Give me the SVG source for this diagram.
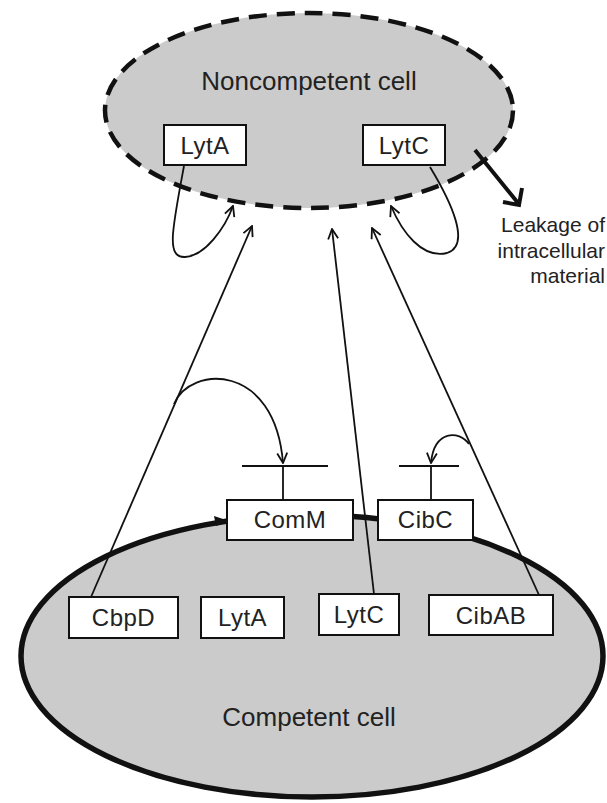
<svg xmlns="http://www.w3.org/2000/svg" width="607" height="803" viewBox="0 0 607 803">
<style>
.cell{fill:#cbcbcb}
.box{fill:#fff;stroke:#111;stroke-width:2}
.lbl{font-family:"Liberation Sans",Arial,sans-serif;font-size:24px;letter-spacing:0.5px;fill:#222;text-anchor:middle}
.big{font-family:"Liberation Sans",Arial,sans-serif;font-size:26px;fill:#222;text-anchor:middle}
.note{font-family:"Liberation Sans",Arial,sans-serif;font-size:21px;fill:#222;text-anchor:end}
.thin{fill:none;stroke:#111;stroke-width:1.8}
</style>
<defs>
<marker id="arr" viewBox="0 0 12 12" refX="11" refY="6" markerWidth="12" markerHeight="12" markerUnits="userSpaceOnUse" orient="auto">
<path d="M1,1 L11,6 L1,11" fill="none" stroke="#111" stroke-width="1.8"/>
</marker>
</defs>
<rect width="607" height="803" fill="#fff"/>
<g id="noncompetent">
<ellipse class="cell" cx="309" cy="110.5" rx="204" ry="97.5" stroke="#111" stroke-width="4.5" stroke-dasharray="18 10"/>
<text class="big" x="309" y="90">Noncompetent cell</text>
</g>
<g id="competent">
<ellipse class="cell" cx="312" cy="656" rx="291" ry="141" stroke="#111" stroke-width="5.5"/>
<text class="big" x="309" y="726">Competent cell</text>
<path d="M214,516 L229,521 L216,526 Z" fill="#111"/>
</g>
<g id="connectors">
<path class="thin" d="M184,166 C172,230 166,258 185,257 C205,256 225,228 233,206" marker-end="url(#arr)"/>
<path class="thin" d="M430,167 C450,200 472,245 447,253 C422,259 402,232 391,206" marker-end="url(#arr)"/>
<path class="thin" d="M91,597 L252,226" marker-end="url(#arr)"/>
<path class="thin" d="M374,594 L332,229" marker-end="url(#arr)"/>
<path class="thin" d="M539,595 L372,228" marker-end="url(#arr)"/>
<path class="thin" d="M174,404 C190,365 275,362 283,463" marker-end="url(#arr)"/>
<path class="thin" d="M469,444 C459,430 434,430 431,463" marker-end="url(#arr)"/>
<path class="thin" d="M242,466 L328,466 M283,466 L283,500"/>
<path class="thin" d="M399,466 L459,466 M431,466 L431,500"/>
<path d="M475,150 L518,203 M503,202 L519,205 L522,188" fill="none" stroke="#111" stroke-width="4"/>
</g>
<g id="leakage">
<text class="note" x="605" y="232">Leakage of</text>
<text class="note" x="605" y="258">intracellular</text>
<text class="note" x="605" y="283">material</text>
</g>
<g id="lytA-top"><rect class="box" x="164" y="125" width="82" height="40"/><text class="lbl" x="205" y="154" letter-spacing="1.5">LytA</text></g>
<g id="lytC-top"><rect class="box" x="363" y="125" width="82" height="40"/><text class="lbl" x="404" y="154" letter-spacing="1.5">LytC</text></g>
<g id="comM"><rect class="box" x="227" y="500" width="126" height="40"/><text class="lbl" x="290" y="528">ComM</text></g>
<g id="cibC"><rect class="box" x="378" y="500" width="95" height="40"/><text class="lbl" x="425.5" y="528">CibC</text></g>
<g id="cbpD"><rect class="box" x="69" y="597" width="109" height="41"/><text class="lbl" x="123.5" y="626">CbpD</text></g>
<g id="lytA-bottom"><rect class="box" x="201" y="597" width="83" height="41"/><text class="lbl" x="242.5" y="626" letter-spacing="1.5">LytA</text></g>
<g id="lytC-bottom"><rect class="box" x="319" y="594" width="80" height="41"/><text class="lbl" x="359" y="623" letter-spacing="1.5">LytC</text></g>
<g id="cibAB"><rect class="box" x="429" y="595" width="124" height="40"/><text class="lbl" x="491" y="624">CibAB</text></g>
</svg>
